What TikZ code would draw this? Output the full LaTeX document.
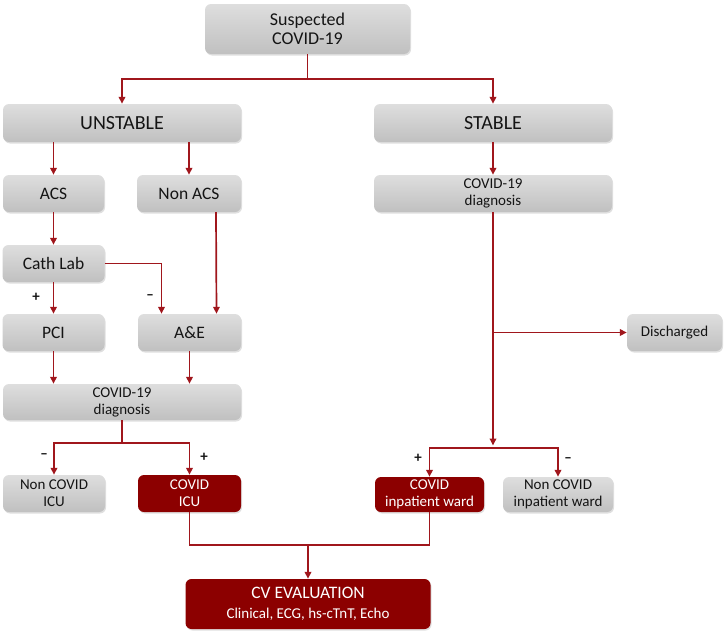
\documentclass[tikz,border=0pt]{standalone}
\usepackage{fontspec}
\setmainfont{Carlito}
\usepackage{xcolor}
\usepackage{tikz}
\usetikzlibrary{
    positioning,
    arrows.meta,
    shadows
}
\definecolor{flowRed}{RGB}{140, 0, 0}
\definecolor{lineRed}{RGB}{160, 22, 28}
\definecolor{boxTop}{RGB}{222, 222, 222}
\definecolor{boxBot}{RGB}{192, 192, 192}
\definecolor{inkGray}{RGB}{20, 20, 20}

\begin{document}
\begin{tikzpicture}[x=1pt, y=-1pt,
    box/.style={rounded corners=6pt, inner sep=0pt, align=center,
        drop shadow={opacity=0.25, shadow xshift=1pt, shadow yshift=-1.5pt}},
    graybox/.style={box, top color=boxTop, bottom color=boxBot, text=inkGray},
    redbox/.style={box, fill=flowRed, text=white},
    big/.style={font=\fontsize{20}{22}\selectfont},
    mid/.style={font=\fontsize{17.5}{20}\selectfont},
    small/.style={font=\fontsize{15}{17}\selectfont},
    ln/.style={draw=lineRed, line width=1.7pt},
    arr/.style={ln, -{Triangle[length=7pt, width=6.5pt]}},
    sign/.style={font=\bfseries\fontsize{15}{15}\selectfont, text=inkGray}]
        \useasboundingbox (0,0) rectangle (725,637);

        % boxes
        \node[graybox, font=\fontsize{18}{19.5}\selectfont, minimum width=205pt, minimum height=50pt] (susp) at (307.5,29) {Suspected\\COVID-19};
        \node[graybox, big, minimum width=238pt, minimum height=38pt] (unst) at (122,123) {UNSTABLE};
        \node[graybox, big, minimum width=238pt, minimum height=38pt] (stab) at (493,123) {STABLE};
        \node[graybox, mid, minimum width=101pt, minimum height=37pt] (acs) at (53.5,193.5) {ACS};
        \node[graybox, mid, minimum width=104pt, minimum height=37pt] (nonacs) at (189,193.5) {Non ACS};
        \node[graybox, small, minimum width=238pt, minimum height=37pt] (diagR) at (493,193.5) {COVID-19\\diagnosis};
        \node[graybox, mid, minimum width=102pt, minimum height=37pt] (cath) at (53.5,263.5) {Cath Lab};
        \node[graybox, mid, minimum width=102pt, minimum height=37pt] (pci) at (53.5,332.5) {PCI};
        \node[graybox, mid, minimum width=103pt, minimum height=37pt] (ae) at (189.5,332.5) {A\&E};
        \node[graybox, small, minimum width=95pt, minimum height=37pt] (disch) at (674.5,332.5) {Discharged};
        \node[graybox, small, minimum width=238pt, minimum height=36pt] (diagL) at (122,402) {COVID-19\\diagnosis};
        \node[graybox, small, minimum width=102pt, minimum height=37pt] (nonicu) at (54,493.5) {Non COVID\\ICU};
        \node[redbox, small, minimum width=103pt, minimum height=37pt] (covicu) at (189.5,493.5) {COVID\\ICU};
        \node[redbox, small, minimum width=109pt, minimum height=35pt] (covward) at (429.5,494.5) {COVID\\inpatient ward};
        \node[graybox, small, minimum width=110pt, minimum height=35pt] (noncovward) at (558,494.5) {Non COVID\\inpatient ward};
        \node[redbox, font=\fontsize{15}{20}\selectfont, minimum width=245pt, minimum height=50pt] (cv) at (308,604)
            {{\fontsize{17.5}{20}\selectfont CV EVALUATION}\\Clinical, ECG, hs-cTnT, Echo};

        % junctions
        \coordinate (top) at (307.5,79);
        \coordinate (leftSplit) at (122,443);
        \coordinate (rightSplit) at (493,448);
        \coordinate (merge) at (429.5,545);

        % connectors
        \draw[ln] (susp.south) -- (top);
        \draw[arr] (top) -| (unst.north);
        \draw[arr] (top) -| (stab.north);
        \draw[arr] (unst.south -| acs) -- (acs.north);
        \draw[arr] (unst.south -| nonacs) -- (nonacs.north);
        \draw[arr] (acs) -- (cath);
        \draw[arr] (cath) -- (pci);
        \draw[arr] (cath.east) -| ([xshift=-28pt]ae.north);
        \draw[arr] ([xshift=27pt]nonacs.south) -- ([xshift=27pt]ae.north);
        \draw[arr] (pci.south) -- (diagL.north -| pci);
        \draw[arr] (ae.south) -- (diagL.north -| ae);
        \draw[ln] (diagL.south) -- (leftSplit);
        \draw[arr] (leftSplit) -| (nonicu.north);
        \draw[arr] (leftSplit) -| (covicu.north);
        \draw[arr] (stab) -- (diagR);
        \draw[arr] (diagR.south) -- ([yshift=2.5pt]rightSplit);
        \draw[arr] (diagR.south |- disch) -- (disch.west);
        \draw[arr] (rightSplit) -| (covward.north);
        \draw[arr] (rightSplit) -| (noncovward.north);
        \draw[ln] (covicu.south) |- (merge) -- (covward.south);
        \draw[arr] (cv.north |- merge) -- (cv.north);

        % signs
        \node[sign] (plusPci) at (36,297) {+};
        \node[sign] (minusAe) at (150,297) {--};
        \node[sign] (minusIcu) at (44,456) {--};
        \node[sign] (plusIcu) at (204,457) {+};
        \node[sign] (plusWard) at (418,458) {+};
        \node[sign] (minusWard) at (568,460) {--};
    \end{tikzpicture}
\end{document}
